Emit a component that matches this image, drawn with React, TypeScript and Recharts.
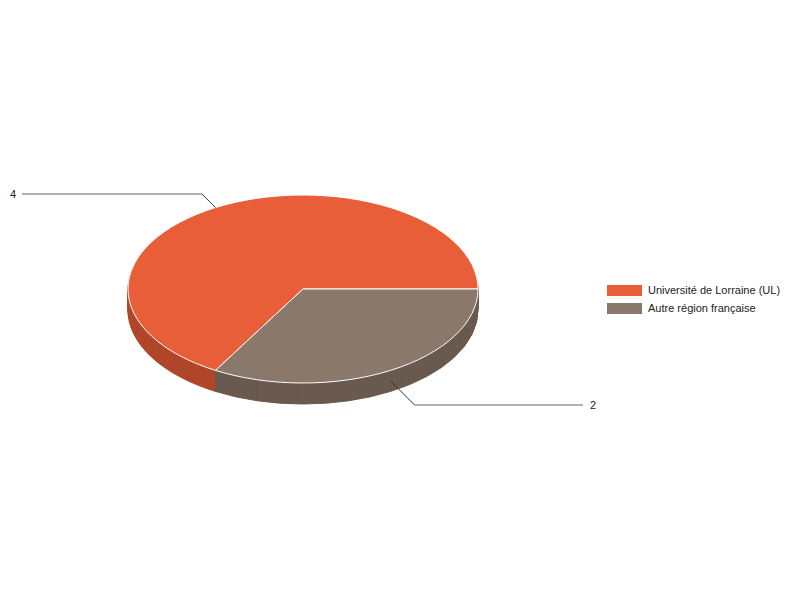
import { PieChart, Pie, Cell, Legend } from "recharts";

// Répartition par provenance
const LABELS = ["Université de Lorraine (UL)", "Autre région française"];
const VALUES = [4, 2];

const TOP_COLORS = ["#e85e38", "#8a786a"];
const SIDE_COLORS = ["#b0462a", "#6a5a4f"];

const FONT = "Arial, 'Liberation Sans', sans-serif";

// ellipse géométrie (pseudo 3D)
const CX = 303;
const CY = 289;
const RX = 175;
const RY = 94;
const K = RY / RX;
const DEPTH = 21;

const topData = LABELS.map((name, i) => ({ name, value: VALUES[i], fill: TOP_COLORS[i] }));
const sideData = LABELS.map((name, i) => ({ name, value: VALUES[i], fill: SIDE_COLORS[i] }));

// couches du bord, de la plus basse à la plus haute
const LAYERS = Array.from({ length: DEPTH }, (_, i) => DEPTH - i);

const css = `
body { margin: 0; }
.pie3d path.recharts-sector {
  transform-origin: ${CX}px ${CY}px;
  transform: scaleY(${K});
  vector-effect: non-scaling-stroke;
}
`;

function renderLabel(props: any) {
  const { cx, cy, midAngle, outerRadius, value } = props;
  const rad = (midAngle * Math.PI) / 180;
  const upper = Math.sin(rad) > 0;
  const right = Math.cos(rad) > 0;
  const sx = cx + outerRadius * Math.cos(rad);
  const sy = cy - outerRadius * K * Math.sin(rad) + (upper ? 0 : DEPTH / 2);
  const ey = upper ? cy - outerRadius * K - 1 : cy + outerRadius * K + DEPTH + 1;
  const ex = sx + (right ? 1 : -1) * Math.abs(ey - sy);
  const endX = right ? cx + 280 : cx - 281;
  return (
    <g>
      <path d={`M${sx},${sy}L${ex},${ey}`} stroke="#333" strokeWidth={1} fill="none" />
      <path d={`M${ex},${ey}L${endX},${ey}`} stroke="#666" strokeWidth={1.2} fill="none" />
      <text
        x={right ? endX + 7 : endX - 6}
        y={ey + 4}
        textAnchor={right ? "start" : "end"}
        fontSize={11}
        fontFamily={FONT}
        fill="#222"
      >
        {value}
      </text>
    </g>
  );
}

function renderLegend(props: any) {
  const items = new Map<string, any>();
  (props.payload ?? [])
    .filter((p: any) => p.type !== "none")
    .forEach((p: any) => items.set(p.value, p));
  const ordered = [...items.values()].sort(
    (a: any, b: any) => LABELS.indexOf(a.value) - LABELS.indexOf(b.value),
  );
  return (
    <div style={{ fontFamily: FONT, fontSize: 11, color: "#222" }}>
      {ordered.map((item: any) => (
        <div key={item.value} style={{ display: "flex", alignItems: "center", height: 11, marginBottom: 7 }}>
          <span style={{ width: 35, height: 11, background: item.color, marginRight: 6, flexShrink: 0 }} />
          <span style={{ lineHeight: "11px", whiteSpace: "nowrap" }}>{item.value}</span>
        </div>
      ))}
    </div>
  );
}

export default function App() {
  return (
    <div className="pie3d" style={{ width: 800, height: 600, position: "relative" }}>
      <style>{css}</style>
      <PieChart width={800} height={600} margin={{ top: 0, right: 0, bottom: 0, left: 0 }}>
        {LAYERS.map((d) => (
          <Pie
            key={d}
            data={sideData}
            dataKey="value"
            nameKey="name"
            cx={CX}
            cy={CY + d / K}
            outerRadius={RX}
            startAngle={0}
            endAngle={360}
            legendType="none"
            isAnimationActive={false}
          >
            {sideData.map((e) => (
              <Cell key={e.name} fill={e.fill} stroke={e.fill} />
            ))}
          </Pie>
        ))}
        <Pie
          data={topData}
          dataKey="value"
          nameKey="name"
          cx={CX}
          cy={CY}
          outerRadius={RX}
          startAngle={0}
          endAngle={360}
          stroke="#fff"
          strokeWidth={1}
          label={renderLabel}
          labelLine={false}
          legendType="rect"
          isAnimationActive={false}
        >
          {topData.map((e) => (
            <Cell key={e.name} fill={e.fill} />
          ))}
        </Pie>
        <Legend
          layout="vertical"
          align="right"
          verticalAlign="middle"
          content={renderLegend}
          wrapperStyle={{ left: 607, top: 285, width: 190 }}
        />
      </PieChart>
    </div>
  );
}
